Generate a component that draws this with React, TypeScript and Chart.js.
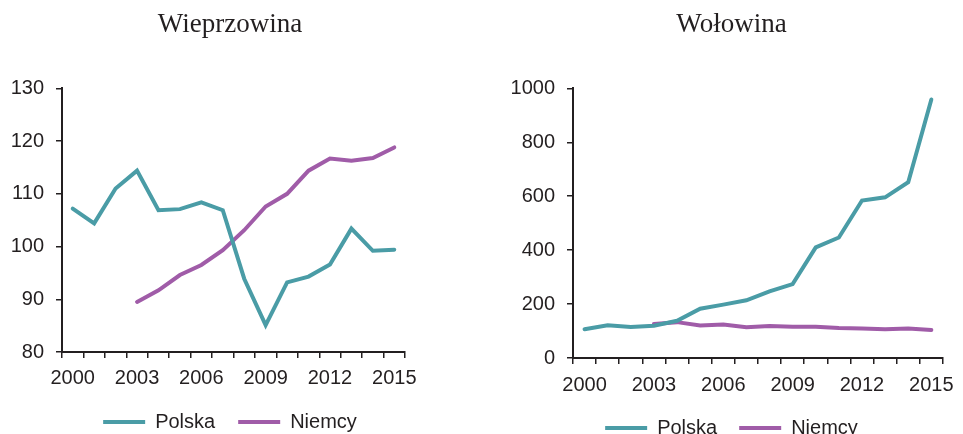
import React, { useEffect, useRef } from 'react';
import { Chart, registerables } from 'chart.js';

Chart.register(...registerables);

const years = ['2000', '2001', '2002', '2003', '2004', '2005', '2006', '2007', '2008', '2009', '2010', '2011', '2012', '2013', '2014', '2015'];
const shownYears = ['2000', '2003', '2006', '2009', '2012', '2015'];

const porkPolska = [107.2, 104.4, 111.0, 114.4, 106.9, 107.1, 108.4, 106.9, 93.9, 85.1, 93.2, 94.3, 96.6, 103.4, 99.2, 99.4];
const porkNiemcy = [null, null, null, 89.5, 91.7, 94.6, 96.5, 99.3, 103.1, 107.6, 110.0, 114.4, 116.7, 116.3, 116.8, 118.8];

const beefPolska = [107, 121, 115, 120, 138, 183, 198, 214, 247, 274, 410, 447, 584, 596, 652, 959];
const beefNiemcy = [null, null, null, 126, 133, 121, 124, 114, 119, 116, 116, 111, 109, 107, 109, 104];

const seriesNames = ['Polska', 'Niemcy'];
const colors = ['#4A9CA6', '#A05CA8'];
const ink = '#231F20';

type Props = {
  title: string;
  polska: (number | null)[];
  niemcy: (number | null)[];
  yMin: number;
  yMax: number;
  step: number;
  left: number;
  width: number;
  height: number;
  yWidth: number;
  rightWidth: number;
  xTickPad: number;
  xShrink: number;
  legendPad: number;
};

function LineChart(p: Props) {
  const ref = useRef<HTMLCanvasElement | null>(null);
  useEffect(() => {
    if (!ref.current) return;
    const tickFont = { family: "'Liberation Sans', Arial, sans-serif", size: 20 };
    const chart = new Chart(ref.current, {
      type: 'line',
      data: {
        labels: years,
        datasets: [
          {
            label: seriesNames[0],
            data: p.polska,
            borderColor: colors[0],
            backgroundColor: colors[0],
            borderWidth: 4,
            pointRadius: 0,
            tension: 0,
            borderCapStyle: 'round',
            yAxisID: 'y',
          },
          {
            label: seriesNames[1],
            data: p.niemcy,
            borderColor: colors[1],
            backgroundColor: colors[1],
            borderWidth: 4,
            pointRadius: 0,
            tension: 0,
            borderCapStyle: 'round',
            yAxisID: 'y',
          },
        ],
      },
      options: {
        animation: false,
        responsive: false,
        maintainAspectRatio: false,
        layout: { padding: 0 },
        plugins: {
          title: {
            display: true,
            text: p.title,
            color: ink,
            font: { family: "'Liberation Serif', 'Times New Roman', serif", size: 27, weight: 'normal' },
            padding: { top: 8.5, bottom: 47.5 },
          },
          legend: {
            display: true,
            position: 'bottom',
            labels: {
              usePointStyle: true,
              pointStyle: 'line',
              pointStyleWidth: 42,
              color: ink,
              font: tickFont,
              padding: p.legendPad,
            },
          },
          tooltip: { enabled: false },
        },
        scales: {
          x: {
            type: 'category',
            offset: true,
            grid: {
              display: true,
              offset: true,
              drawOnChartArea: false,
              drawTicks: true,
              tickLength: 6,
              color: ink,
              lineWidth: 1.5,
            },
            border: { display: true, color: ink, width: 2 },
            ticks: {
              autoSkip: false,
              maxRotation: 0,
              minRotation: 0,
              padding: p.xTickPad,
              color: ink,
              font: tickFont,
              callback: (_v: any, i: number) => (shownYears.includes(years[i]) ? years[i] : ''),
            },
            afterFit: (s: any) => {
              s.height = s.height - p.xShrink;
            },
          },
          y: {
            position: 'left',
            min: p.yMin,
            max: p.yMax,
            grid: {
              display: true,
              drawOnChartArea: false,
              drawTicks: true,
              tickLength: 6,
              color: ink,
              lineWidth: 1.5,
            },
            border: { display: true, color: ink, width: 2 },
            ticks: {
              stepSize: p.step,
              padding: 12,
              color: ink,
              font: tickFont,
              callback: (v: any) => String(v),
            },
            afterFit: (s: any) => {
              s.width = p.yWidth;
            },
          },
          yR: {
            position: 'right',
            display: true,
            grid: { display: false },
            border: { display: false },
            ticks: { display: false },
            afterFit: (s: any) => {
              s.width = p.rightWidth;
            },
          },
        },
      },
    } as any);
    return () => chart.destroy();
  }, []);
  return (
    <canvas
      ref={ref}
      width={p.width}
      height={p.height}
      style={{ position: 'absolute', left: p.left, top: 0, width: p.width, height: p.height }}
    />
  );
}

export default function App() {
  return (
    <div
      style={{
        position: 'fixed',
        left: 0,
        top: 0,
        width: 963,
        height: 434,
        overflow: 'hidden',
        background: '#ffffff',
      }}
    >
      <LineChart
        title="Wieprzowina"
        polska={porkPolska}
        niemcy={porkNiemcy}
        yMin={80}
        yMax={130}
        step={10}
        left={0}
        width={460}
        height={442}
        yWidth={62}
        rightWidth={55}
        xTickPad={8}
        xShrink={9}
        legendPad={23}
      />
      <LineChart
        title="Wołowina"
        polska={beefPolska}
        niemcy={beefNiemcy}
        yMin={0}
        yMax={1000}
        step={200}
        left={500}
        width={463}
        height={448}
        yWidth={73}
        rightWidth={13}
        xTickPad={9}
        xShrink={10}
        legendPad={22}
      />
    </div>
  );
}
